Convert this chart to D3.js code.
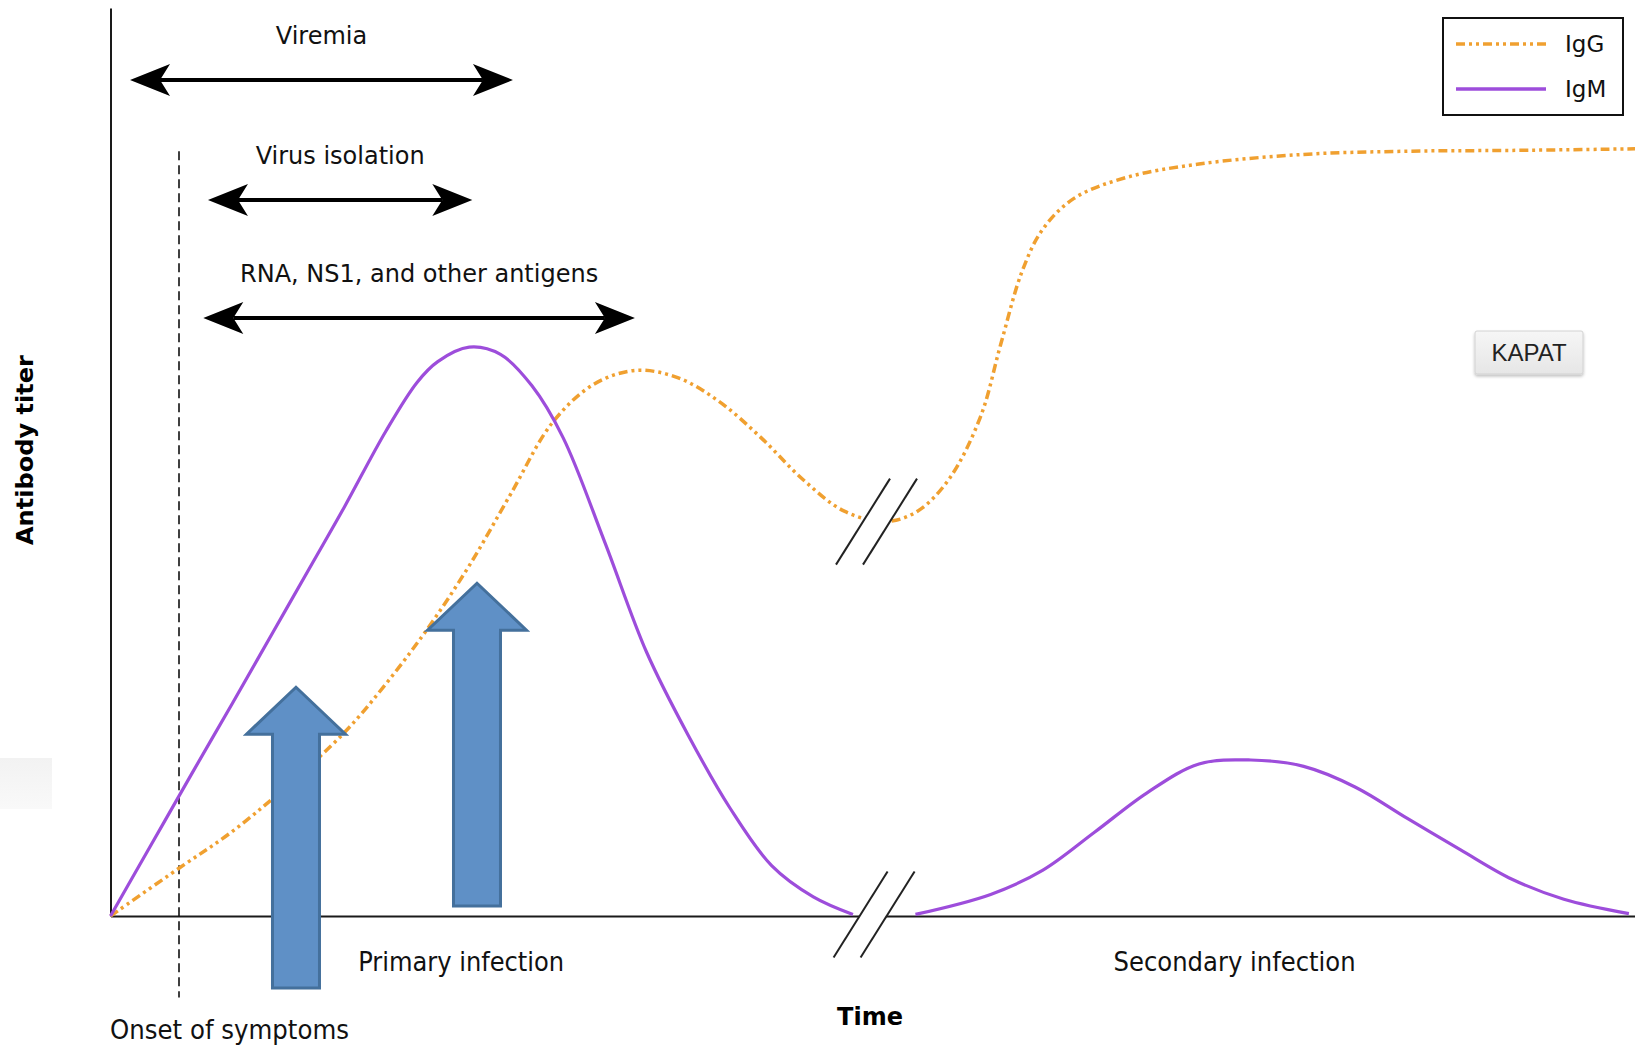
<!DOCTYPE html>
<html><head><meta charset="utf-8">
<script src="https://cdn.jsdelivr.net/npm/d3@7"></script>
<style>html,body{margin:0;padding:0;background:#fff;} svg{display:block;}</style>
</head><body>
<svg id="chart" width="1635" height="1048"></svg>
<script>
// ---------------- data (time units / titer units) ----------------
const igmPrimaryTime  = [0, 4, 8, 12, 16, 20, 23, 27.09, 30.16, 32.2, 35.3, 38.37, 41.45, 44.53, 48.64, 52.74, 56.84, 60.95, 65.05, 69.15, 73.05];
const igmPrimaryTiter = [0, 8.9, 17.8, 26.6, 35.5, 44.4, 51.1, 60.6, 66.7, 69.3, 71.1, 70.2, 66.3, 59.8, 46.7, 33.0, 22.6, 13.5, 6.3, 2.4, 0.2];

const igmSecondaryTime  = [79.2, 86.6, 91.7, 96.85, 101.99, 107.1, 112.2, 117.4, 122.5, 127.6, 132.8, 137.9, 143.0, 149.4];
const igmSecondaryTiter = [0.2, 2.7, 5.7, 10.5, 15.4, 19.0, 19.5, 18.7, 16.1, 12.2, 8.3, 4.6, 2.1, 0.3];

const iggTime  = [0, 6.77, 11.7, 16.8, 22.99, 27.09, 31.19, 35.3, 39.4, 43.5, 47.6, 51.7, 55.8, 59.9, 64.0, 68.1, 72.2, 76.3, 79.4, 82.5, 85.6, 87.6, 89.7, 91.7, 94.8, 99.9, 107.1, 117.4, 127.6, 137.9, 150];
const iggTiter = [0, 6.0, 10.3, 15.6, 22.9, 29.0, 35.9, 43.8, 52.8, 61.7, 66.5, 68.2, 67.3, 64.3, 59.8, 54.6, 50.6, 49.3, 50.6, 54.6, 62.4, 71.5, 80.6, 85.8, 89.7, 92.3, 94.0, 95.2, 95.6, 95.7, 95.9];

const seriesNames = ["IgG", "IgM"];

const rangeLabels = ["Viremia", "Virus isolation", "RNA, NS1, and other antigens"];
const rangeStart  = [1.92, 9.59, 9.13];
const rangeEnd    = [39.6, 35.6, 51.6];
const rangeLevel  = [104.5, 89.5, 74.75];

const markerTime = [18.25, 36.06];
const markerBase = [-9.0, 1.25];
const markerTip  = [28.6, 41.6];

const onsetTime = 6.74;
const onsetExtent = [95.6, -10.2];

const breakTime  = [75.37, 75.13];
const breakTiter = [49.3, 0.19];

const phaseLabels = ["Primary infection", "Secondary infection"];
const phaseTime   = [34.5, 110.6];

// ---------------- setup ----------------
const W = 1635, H = 1048;
const svg = d3.select("#chart");
const x = d3.scaleLinear().domain([0, 150]).range([110.5, 1635]);
const y = d3.scaleLinear().domain([0, 113.5]).range([916, 8]);

const FONT = "'DejaVu Sans', Verdana, sans-serif";
const purple = "#9d4ddb";
const orange = "#f0a030";

svg.append("rect").attr("width", W).attr("height", H).attr("fill", "#fff");

const defs = svg.append("defs");
const lg = defs.append("linearGradient").attr("id", "gbox").attr("x1", 0).attr("x2", 0).attr("y1", 0).attr("y2", 1);
lg.append("stop").attr("offset", "0%").attr("stop-color", "#f2f2f2");
lg.append("stop").attr("offset", "100%").attr("stop-color", "#f9f9f9");
svg.append("rect").attr("x", 0).attr("y", 758).attr("width", 52).attr("height", 51).attr("fill", "url(#gbox)");

const bg = defs.append("linearGradient").attr("id", "btn").attr("x1", 0).attr("x2", 0).attr("y1", 0).attr("y2", 1);
bg.append("stop").attr("offset", "0%").attr("stop-color", "#f6f6f6");
bg.append("stop").attr("offset", "100%").attr("stop-color", "#e6e6e6");
const sh = defs.append("filter").attr("id", "shadow").attr("x", "-20%").attr("y", "-20%").attr("width", "140%").attr("height", "160%");
sh.append("feDropShadow").attr("dx", 0).attr("dy", 2).attr("stdDeviation", 1.5).attr("flood-color", "#000").attr("flood-opacity", 0.25);

// axes (no ticks)
svg.append("g").attr("transform", `translate(0,${y(0)})`)
  .call(d3.axisBottom(x).tickValues([]).tickSizeOuter(0))
  .select(".domain").attr("stroke", "#1a1a1a").attr("stroke-width", 2);
svg.append("g").attr("transform", `translate(${x(0)},0)`)
  .call(d3.axisLeft(y).tickValues([]).tickSizeOuter(0))
  .select(".domain").attr("stroke", "#1a1a1a").attr("stroke-width", 2);

// onset dashed line
svg.append("line")
  .attr("x1", x(onsetTime)).attr("x2", x(onsetTime))
  .attr("y1", y(onsetExtent[0])).attr("y2", y(onsetExtent[1]))
  .attr("stroke", "#111").attr("stroke-width", 1.6).attr("stroke-dasharray", "9,5");

// curves
const line = d3.line().x(d => x(d[0])).y(d => y(d[1])).curve(d3.curveCatmullRom.alpha(0.5));
const zip = (a, b) => a.map((v, i) => [v, b[i]]);

svg.append("path").datum(zip(iggTime, iggTiter)).attr("d", line)
  .attr("fill", "none").attr("stroke", orange).attr("stroke-width", 3.5)
  .attr("stroke-dasharray", "9,4,3,4,3,4");
svg.append("path").datum(zip(igmPrimaryTime, igmPrimaryTiter)).attr("d", line)
  .attr("fill", "none").attr("stroke", purple).attr("stroke-width", 3.2);
svg.append("path").datum(zip(igmSecondaryTime, igmSecondaryTiter)).attr("d", line)
  .attr("fill", "none").attr("stroke", purple).attr("stroke-width", 3.2);

// break marks
const bdx = 27, bdy = 43, boff = 13.5;
breakTime.forEach((t, i) => {
  const cx = x(t), cy = y(breakTiter[i]);
  svg.append("polygon")
    .attr("points", [[cx - boff - bdx, cy + bdy], [cx - boff + bdx, cy - bdy], [cx + boff + bdx, cy - bdy], [cx + boff - bdx, cy + bdy]].map(p => p.join(",")).join(" "))
    .attr("fill", "#fff");
  [-boff, boff].forEach(o => {
    svg.append("line")
      .attr("x1", cx + o - bdx).attr("y1", cy + bdy)
      .attr("x2", cx + o + bdx).attr("y2", cy - bdy)
      .attr("stroke", "#222").attr("stroke-width", 2);
  });
});

// range arrows
const headL = 40, headW = 16, notch = 30;
function head(tx, ty, d) {
  return `M${tx},${ty} L${tx - d * headL},${ty - headW} L${tx - d * notch},${ty} L${tx - d * headL},${ty + headW} Z`;
}
rangeLabels.forEach((lab, i) => {
  const x1 = x(rangeStart[i]), x2 = x(rangeEnd[i]), yy = y(rangeLevel[i]);
  svg.append("line").attr("x1", x1 + notch).attr("x2", x2 - notch).attr("y1", yy).attr("y2", yy)
    .attr("stroke", "#000").attr("stroke-width", 4);
  svg.append("path").attr("d", head(x1, yy, -1)).attr("fill", "#000");
  svg.append("path").attr("d", head(x2, yy, 1)).attr("fill", "#000");
  svg.append("text").attr("x", (x1 + x2) / 2).attr("y", yy - 36)
    .attr("text-anchor", "middle").attr("font-family", FONT).attr("font-size", 24)
    .attr("fill", "#111").text(lab);
});

// blue up arrows
const shaftHalf = 23.5, headHalf = 49.5, headH = 47;
markerTime.forEach((t, i) => {
  const cx = x(t), yb = y(markerBase[i]), yt = y(markerTip[i]);
  const p = `M${cx - shaftHalf},${yb} L${cx - shaftHalf},${yt + headH} L${cx - headHalf},${yt + headH} L${cx},${yt} L${cx + headHalf},${yt + headH} L${cx + shaftHalf},${yt + headH} L${cx + shaftHalf},${yb} Z`;
  svg.append("path").attr("d", p).attr("fill", "#5f90c6").attr("stroke", "#44709c").attr("stroke-width", 3);
});

// phase labels
phaseLabels.forEach((lab, i) => {
  svg.append("text").attr("x", x(phaseTime[i])).attr("y", 971)
    .attr("text-anchor", "middle").attr("font-family", FONT).attr("font-size", 26)
    .attr("textLength", i === 0 ? 206 : 242).attr("lengthAdjust", "spacingAndGlyphs")
    .attr("fill", "#111").text(lab);
});
svg.append("text").attr("x", 110).attr("y", 1039)
  .attr("font-family", FONT).attr("font-size", 26)
  .attr("textLength", 239).attr("lengthAdjust", "spacingAndGlyphs")
  .attr("fill", "#111").text("Onset of symptoms");

// axis titles
svg.append("text").attr("x", 870).attr("y", 1025).attr("text-anchor", "middle")
  .attr("font-family", FONT).attr("font-weight", "bold").attr("font-size", 24)
  .attr("fill", "#000").text("Time");
svg.append("text").attr("transform", "translate(33,450) rotate(-90)").attr("text-anchor", "middle")
  .attr("font-family", FONT).attr("font-weight", "bold").attr("font-size", 23)
  .attr("textLength", 190).attr("lengthAdjust", "spacingAndGlyphs")
  .attr("fill", "#000").text("Antibody titer");

// legend
const lgG = svg.append("g");
lgG.append("rect").attr("x", 1443).attr("y", 18).attr("width", 180).attr("height", 97)
  .attr("fill", "#fff").attr("stroke", "#111").attr("stroke-width", 2);
const legY = [44, 89];
seriesNames.forEach((n, i) => {
  lgG.append("line").attr("x1", 1456).attr("x2", 1546).attr("y1", legY[i]).attr("y2", legY[i])
    .attr("stroke", i === 0 ? orange : purple).attr("stroke-width", 3.5)
    .attr("stroke-dasharray", i === 0 ? "9,4,3,4,3,4" : null);
  lgG.append("text").attr("x", 1565).attr("y", legY[i] + 8)
    .attr("font-family", FONT).attr("font-size", 23).attr("fill", "#111").text(n);
});

// KAPAT button
svg.append("rect").attr("x", 1475).attr("y", 331).attr("width", 108).attr("height", 43).attr("rx", 2)
  .attr("fill", "url(#btn)").attr("stroke", "#d2d2d2").attr("stroke-width", 1).attr("filter", "url(#shadow)");
svg.append("text").attr("x", 1529).attr("y", 361).attr("text-anchor", "middle")
  .attr("font-family", "'Liberation Sans', Arial, sans-serif").attr("font-size", 24)
  .attr("fill", "#222").text("KAPAT");
</script>
</body></html>
